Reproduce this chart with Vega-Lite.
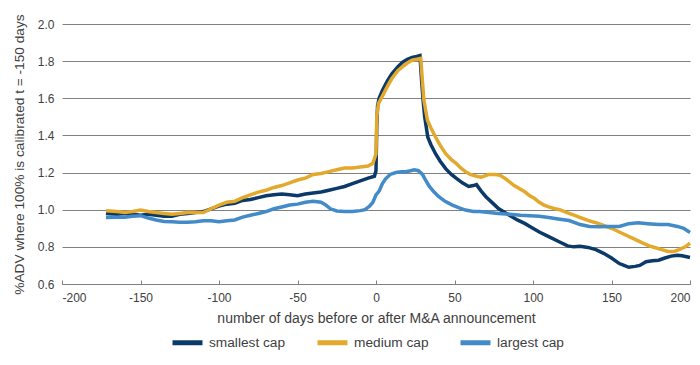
{
  "$schema": "https://vega.github.io/schema/vega-lite/v6.json",
  "width": 628,
  "height": 260,
  "autosize": {"type": "none"},
  "padding": {"left": 62, "top": 24, "right": 10, "bottom": 81},
  "background": "white",
  "config": {
    "view": {"stroke": null},
    "font": "Liberation Sans",
    "axis": {"labelFont": "Liberation Sans", "titleFont": "Liberation Sans", "labelColor": "#404040", "titleColor": "#404040", "titleFontWeight": "normal"},
    "legend": {"labelFont": "Liberation Sans", "labelColor": "#404040"}
  },
  "datasets": {
    "d": [
      {"s":"smallest cap","x":-172,"v":0.98},{"s":"smallest cap","x":-165,"v":0.975},{"s":"smallest cap","x":-160,"v":0.98},{"s":"smallest cap","x":-155,"v":0.975},{"s":"smallest cap","x":-150,"v":0.97},{"s":"smallest cap","x":-145,"v":0.975},{"s":"smallest cap","x":-140,"v":0.97},{"s":"smallest cap","x":-135,"v":0.965},{"s":"smallest cap","x":-130,"v":0.965},{"s":"smallest cap","x":-125,"v":0.975},{"s":"smallest cap","x":-120,"v":0.98},{"s":"smallest cap","x":-115,"v":0.985},{"s":"smallest cap","x":-110,"v":0.99},{"s":"smallest cap","x":-105,"v":1.005},{"s":"smallest cap","x":-100,"v":1.02},{"s":"smallest cap","x":-95,"v":1.03},{"s":"smallest cap","x":-90,"v":1.035},{"s":"smallest cap","x":-85,"v":1.05},{"s":"smallest cap","x":-80,"v":1.055},{"s":"smallest cap","x":-75,"v":1.065},{"s":"smallest cap","x":-70,"v":1.075},{"s":"smallest cap","x":-65,"v":1.08},{"s":"smallest cap","x":-60,"v":1.085},{"s":"smallest cap","x":-55,"v":1.08},{"s":"smallest cap","x":-50,"v":1.075},{"s":"smallest cap","x":-45,"v":1.085},{"s":"smallest cap","x":-40,"v":1.09},{"s":"smallest cap","x":-35,"v":1.095},{"s":"smallest cap","x":-30,"v":1.105},{"s":"smallest cap","x":-25,"v":1.115},{"s":"smallest cap","x":-20,"v":1.125},{"s":"smallest cap","x":-15,"v":1.14},{"s":"smallest cap","x":-10,"v":1.155},{"s":"smallest cap","x":-5,"v":1.17},{"s":"smallest cap","x":-1,"v":1.18},{"s":"smallest cap","x":0,"v":1.21},{"s":"smallest cap","x":0.5,"v":1.45},{"s":"smallest cap","x":1,"v":1.56},{"s":"smallest cap","x":2,"v":1.6},{"s":"smallest cap","x":4,"v":1.64},{"s":"smallest cap","x":7,"v":1.69},{"s":"smallest cap","x":10,"v":1.73},{"s":"smallest cap","x":14,"v":1.77},{"s":"smallest cap","x":17,"v":1.795},{"s":"smallest cap","x":20,"v":1.81},{"s":"smallest cap","x":23,"v":1.82},{"s":"smallest cap","x":26,"v":1.825},{"s":"smallest cap","x":28,"v":1.83},{"s":"smallest cap","x":29,"v":1.7},{"s":"smallest cap","x":30,"v":1.59},{"s":"smallest cap","x":31,"v":1.5},{"s":"smallest cap","x":33,"v":1.39},{"s":"smallest cap","x":35,"v":1.35},{"s":"smallest cap","x":38,"v":1.3},{"s":"smallest cap","x":41,"v":1.26},{"s":"smallest cap","x":44.5,"v":1.22},{"s":"smallest cap","x":48,"v":1.19},{"s":"smallest cap","x":51,"v":1.17},{"s":"smallest cap","x":55,"v":1.145},{"s":"smallest cap","x":59,"v":1.125},{"s":"smallest cap","x":62,"v":1.13},{"s":"smallest cap","x":64,"v":1.135},{"s":"smallest cap","x":67,"v":1.1},{"s":"smallest cap","x":70,"v":1.07},{"s":"smallest cap","x":75,"v":1.03},{"s":"smallest cap","x":78,"v":1.006},{"s":"smallest cap","x":82,"v":0.985},{"s":"smallest cap","x":85,"v":0.97},{"s":"smallest cap","x":90,"v":0.945},{"s":"smallest cap","x":95,"v":0.925},{"s":"smallest cap","x":98,"v":0.91},{"s":"smallest cap","x":104,"v":0.88},{"s":"smallest cap","x":110,"v":0.855},{"s":"smallest cap","x":116,"v":0.83},{"s":"smallest cap","x":122,"v":0.805},{"s":"smallest cap","x":126,"v":0.8},{"s":"smallest cap","x":130,"v":0.803},{"s":"smallest cap","x":135,"v":0.797},{"s":"smallest cap","x":140,"v":0.785},{"s":"smallest cap","x":145,"v":0.765},{"s":"smallest cap","x":150,"v":0.74},{"s":"smallest cap","x":155,"v":0.71},{"s":"smallest cap","x":158,"v":0.7},{"s":"smallest cap","x":161,"v":0.69},{"s":"smallest cap","x":165,"v":0.695},{"s":"smallest cap","x":168,"v":0.7},{"s":"smallest cap","x":172,"v":0.72},{"s":"smallest cap","x":176,"v":0.725},{"s":"smallest cap","x":180,"v":0.728},{"s":"smallest cap","x":184,"v":0.74},{"s":"smallest cap","x":188,"v":0.75},{"s":"smallest cap","x":192,"v":0.755},{"s":"smallest cap","x":195,"v":0.752},{"s":"smallest cap","x":200,"v":0.743},
      {"s":"medium cap","x":-172,"v":0.995},{"s":"medium cap","x":-165,"v":0.99},{"s":"medium cap","x":-160,"v":0.985},{"s":"medium cap","x":-155,"v":0.99},{"s":"medium cap","x":-150,"v":0.998},{"s":"medium cap","x":-145,"v":0.99},{"s":"medium cap","x":-140,"v":0.985},{"s":"medium cap","x":-135,"v":0.98},{"s":"medium cap","x":-130,"v":0.975},{"s":"medium cap","x":-125,"v":0.98},{"s":"medium cap","x":-120,"v":0.985},{"s":"medium cap","x":-115,"v":0.985},{"s":"medium cap","x":-110,"v":0.985},{"s":"medium cap","x":-105,"v":1.005},{"s":"medium cap","x":-100,"v":1.025},{"s":"medium cap","x":-95,"v":1.04},{"s":"medium cap","x":-90,"v":1.045},{"s":"medium cap","x":-85,"v":1.065},{"s":"medium cap","x":-80,"v":1.08},{"s":"medium cap","x":-75,"v":1.095},{"s":"medium cap","x":-70,"v":1.105},{"s":"medium cap","x":-65,"v":1.12},{"s":"medium cap","x":-60,"v":1.13},{"s":"medium cap","x":-55,"v":1.145},{"s":"medium cap","x":-50,"v":1.16},{"s":"medium cap","x":-45,"v":1.17},{"s":"medium cap","x":-40,"v":1.19},{"s":"medium cap","x":-35,"v":1.195},{"s":"medium cap","x":-30,"v":1.205},{"s":"medium cap","x":-25,"v":1.215},{"s":"medium cap","x":-20,"v":1.225},{"s":"medium cap","x":-15,"v":1.225},{"s":"medium cap","x":-10,"v":1.23},{"s":"medium cap","x":-5,"v":1.235},{"s":"medium cap","x":-2,"v":1.25},{"s":"medium cap","x":0,"v":1.3},{"s":"medium cap","x":0.5,"v":1.5},{"s":"medium cap","x":1.5,"v":1.57},{"s":"medium cap","x":4,"v":1.61},{"s":"medium cap","x":7,"v":1.66},{"s":"medium cap","x":10,"v":1.705},{"s":"medium cap","x":14,"v":1.75},{"s":"medium cap","x":17,"v":1.77},{"s":"medium cap","x":20,"v":1.79},{"s":"medium cap","x":23,"v":1.805},{"s":"medium cap","x":26,"v":1.81},{"s":"medium cap","x":28.5,"v":1.815},{"s":"medium cap","x":29.5,"v":1.7},{"s":"medium cap","x":30.5,"v":1.59},{"s":"medium cap","x":32.8,"v":1.48},{"s":"medium cap","x":35,"v":1.44},{"s":"medium cap","x":38,"v":1.39},{"s":"medium cap","x":41,"v":1.345},{"s":"medium cap","x":44.5,"v":1.3},{"s":"medium cap","x":48,"v":1.27},{"s":"medium cap","x":51,"v":1.25},{"s":"medium cap","x":54,"v":1.225},{"s":"medium cap","x":57,"v":1.205},{"s":"medium cap","x":60,"v":1.19},{"s":"medium cap","x":64,"v":1.18},{"s":"medium cap","x":67,"v":1.175},{"s":"medium cap","x":72,"v":1.19},{"s":"medium cap","x":76,"v":1.19},{"s":"medium cap","x":79,"v":1.185},{"s":"medium cap","x":82,"v":1.17},{"s":"medium cap","x":85,"v":1.15},{"s":"medium cap","x":88,"v":1.13},{"s":"medium cap","x":91,"v":1.115},{"s":"medium cap","x":95,"v":1.095},{"s":"medium cap","x":98,"v":1.075},{"s":"medium cap","x":101,"v":1.06},{"s":"medium cap","x":104,"v":1.04},{"s":"medium cap","x":107,"v":1.025},{"s":"medium cap","x":110,"v":1.015},{"s":"medium cap","x":114,"v":1.005},{"s":"medium cap","x":117,"v":1.0},{"s":"medium cap","x":120,"v":0.99},{"s":"medium cap","x":123,"v":0.98},{"s":"medium cap","x":127,"v":0.968},{"s":"medium cap","x":130,"v":0.958},{"s":"medium cap","x":135,"v":0.943},{"s":"medium cap","x":140,"v":0.93},{"s":"medium cap","x":145,"v":0.915},{"s":"medium cap","x":150,"v":0.9},{"s":"medium cap","x":155,"v":0.88},{"s":"medium cap","x":160,"v":0.86},{"s":"medium cap","x":165,"v":0.84},{"s":"medium cap","x":170,"v":0.82},{"s":"medium cap","x":174,"v":0.805},{"s":"medium cap","x":178,"v":0.795},{"s":"medium cap","x":182,"v":0.785},{"s":"medium cap","x":186,"v":0.775},{"s":"medium cap","x":190,"v":0.775},{"s":"medium cap","x":193,"v":0.785},{"s":"medium cap","x":197,"v":0.8},{"s":"medium cap","x":200,"v":0.82},
      {"s":"largest cap","x":-172,"v":0.958},{"s":"largest cap","x":-165,"v":0.96},{"s":"largest cap","x":-160,"v":0.96},{"s":"largest cap","x":-155,"v":0.965},{"s":"largest cap","x":-150,"v":0.968},{"s":"largest cap","x":-145,"v":0.955},{"s":"largest cap","x":-140,"v":0.945},{"s":"largest cap","x":-135,"v":0.937},{"s":"largest cap","x":-130,"v":0.935},{"s":"largest cap","x":-125,"v":0.933},{"s":"largest cap","x":-120,"v":0.932},{"s":"largest cap","x":-115,"v":0.935},{"s":"largest cap","x":-110,"v":0.94},{"s":"largest cap","x":-105,"v":0.94},{"s":"largest cap","x":-100,"v":0.935},{"s":"largest cap","x":-95,"v":0.94},{"s":"largest cap","x":-90,"v":0.945},{"s":"largest cap","x":-85,"v":0.96},{"s":"largest cap","x":-80,"v":0.97},{"s":"largest cap","x":-75,"v":0.98},{"s":"largest cap","x":-70,"v":0.99},{"s":"largest cap","x":-65,"v":1.005},{"s":"largest cap","x":-60,"v":1.015},{"s":"largest cap","x":-55,"v":1.025},{"s":"largest cap","x":-50,"v":1.03},{"s":"largest cap","x":-45,"v":1.04},{"s":"largest cap","x":-40,"v":1.045},{"s":"largest cap","x":-35,"v":1.04},{"s":"largest cap","x":-32,"v":1.025},{"s":"largest cap","x":-29,"v":1.005},{"s":"largest cap","x":-25,"v":0.993},{"s":"largest cap","x":-20,"v":0.99},{"s":"largest cap","x":-15,"v":0.99},{"s":"largest cap","x":-10,"v":0.995},{"s":"largest cap","x":-7,"v":1.0},{"s":"largest cap","x":-4,"v":1.02},{"s":"largest cap","x":-2,"v":1.04},{"s":"largest cap","x":0,"v":1.08},{"s":"largest cap","x":2,"v":1.1},{"s":"largest cap","x":4,"v":1.14},{"s":"largest cap","x":6,"v":1.165},{"s":"largest cap","x":9,"v":1.19},{"s":"largest cap","x":12.7,"v":1.2},{"s":"largest cap","x":16,"v":1.205},{"s":"largest cap","x":19,"v":1.205},{"s":"largest cap","x":22,"v":1.21},{"s":"largest cap","x":24.4,"v":1.215},{"s":"largest cap","x":27,"v":1.21},{"s":"largest cap","x":29.6,"v":1.19},{"s":"largest cap","x":31.5,"v":1.16},{"s":"largest cap","x":34,"v":1.125},{"s":"largest cap","x":37,"v":1.095},{"s":"largest cap","x":40,"v":1.07},{"s":"largest cap","x":44,"v":1.045},{"s":"largest cap","x":48.7,"v":1.025},{"s":"largest cap","x":53,"v":1.01},{"s":"largest cap","x":57,"v":0.998},{"s":"largest cap","x":62,"v":0.99},{"s":"largest cap","x":66,"v":0.99},{"s":"largest cap","x":72,"v":0.985},{"s":"largest cap","x":78,"v":0.98},{"s":"largest cap","x":85,"v":0.975},{"s":"largest cap","x":92,"v":0.97},{"s":"largest cap","x":98,"v":0.968},{"s":"largest cap","x":104,"v":0.965},{"s":"largest cap","x":110,"v":0.958},{"s":"largest cap","x":116,"v":0.95},{"s":"largest cap","x":123,"v":0.942},{"s":"largest cap","x":130,"v":0.92},{"s":"largest cap","x":136,"v":0.91},{"s":"largest cap","x":142,"v":0.908},{"s":"largest cap","x":148,"v":0.91},{"s":"largest cap","x":155,"v":0.91},{"s":"largest cap","x":161,"v":0.925},{"s":"largest cap","x":167,"v":0.93},{"s":"largest cap","x":173,"v":0.925},{"s":"largest cap","x":180,"v":0.92},{"s":"largest cap","x":186,"v":0.92},{"s":"largest cap","x":192,"v":0.91},{"s":"largest cap","x":196,"v":0.9},{"s":"largest cap","x":200,"v":0.877}
    ]
  },
  "data": {"name": "d"},
  "mark": {"type": "line", "strokeWidth": 3.5, "interpolate": "linear"},
  "encoding": {
    "x": {
      "field": "x", "type": "quantitative",
      "scale": {"domain": [-200, 200], "nice": false, "zero": false},
      "axis": {
        "values": [-200, -150, -100, -50, 0, 50, 100, 150, 200],
        "labelExpr": "datum.value + ''",
        "title": "number of days before or after M&A announcement",
        "grid": false, "domainColor": "#808080", "tickColor": "#808080",
        "tickSize": -4, "labelPadding": 12, "labelFontSize": 12, "titleFontSize": 14, "titlePadding": 8
      }
    },
    "y": {
      "field": "v", "type": "quantitative",
      "scale": {"domain": [0.6, 2.0], "nice": false, "zero": false},
      "axis": {
        "values": [0.6, 0.8, 1.0, 1.2, 1.4, 1.6, 1.8, 2.0],
        "format": ".1f",
        "title": "%ADV where 100% is calibrated t = -150 days",
        "domain": false, "ticks": false, "gridColor": "#808080", "gridWidth": 1,
        "labelPadding": 8, "labelFontSize": 12, "titleFontSize": 13.7, "titlePadding": 11
      }
    },
    "color": {
      "field": "s", "type": "nominal",
      "scale": {"domain": ["smallest cap", "medium cap", "largest cap"], "range": ["#0b3a68", "#e2a92c", "#438ac8"]},
      "legend": {
        "title": null, "orient": "none", "direction": "horizontal",
        "legendX": 108, "legendY": 301,
        "symbolType": "stroke", "symbolSize": 900, "symbolStrokeWidth": 5,
        "labelFontSize": 13.7, "columnPadding": 21
      }
    }
  }
}
